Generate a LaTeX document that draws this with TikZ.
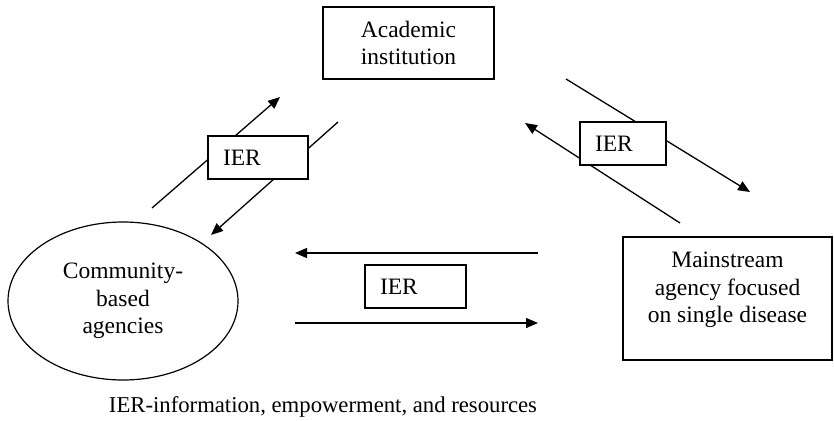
\documentclass[tikz,border=0pt]{standalone}
\usepackage{fontspec}
\setmainfont{Liberation Serif}
\usetikzlibrary{shapes.geometric, arrows.meta, positioning}

\begin{document}
\begin{tikzpicture}[x=1pt,y=-1pt]
      \tikzset{
            orgbox/.style={draw, line width=1.2pt, align=center, inner sep=0pt, font=\fontsize{23.5}{27.5}\selectfont},
            orgellipse/.style={ellipse, draw, line width=1.2pt, inner sep=0pt, minimum width=230pt, minimum height=158pt, align=center, font=\fontsize{23.5}{27.5}\selectfont},
            ierbox/.style={draw, fill=white, line width=1.2pt, inner xsep=15pt, inner ysep=0pt, minimum height=43pt, align=left, font=\fontsize{23.5}{27.5}\selectfont},
            ierarrow/.style={-{Triangle[length=12pt,width=10pt]}, line width=1.3pt},
            captiontext/.style={font=\fontsize{22.7}{26}\selectfont}
      }

      % Canvas
      \useasboundingbox (0,0) rectangle (834,420);

      % Organisations
      \node[orgbox, minimum width=171pt, minimum height=72pt] (acad) at (408.5,43) {Academic\\institution};
      \node[orgellipse] (comm) at (123,301) {Community-\\based\\agencies};
      \node[orgbox, minimum width=209pt, minimum height=123pt] (main) at (727.5,298.5) {};
      \node[orgbox, draw=none] (mainTxt) at ([yshift=8.5pt]main.center) {Mainstream\\agency focused\\on single disease};

      % Arrow end points
      \coordinate (lUpS) at (152,208);
      \coordinate (lUpE) at (280,97);
      \coordinate (lDnS) at (338,122);
      \coordinate (lDnE) at (211,235);
      \coordinate (rDnS) at (566,79);
      \coordinate (rDnE) at (750,192);
      \coordinate (rUpS) at (680,223);
      \coordinate (rUpE) at (525,123);
      \coordinate (bLS) at (538,253);
      \coordinate (bLE) at (295,253);
      \coordinate (bRS) at (295,323);
      \coordinate (bRE) at (538,323);

      % Exchange arrows
      \draw[ierarrow] (lUpS) -- (lUpE);
      \draw[ierarrow] (lDnS) -- (lDnE);
      \draw[ierarrow] (rDnS) -- (rDnE);
      \draw[ierarrow] (rUpS) -- (rUpE);
      \draw[ierarrow] (bLS) -- (bLE);
      \draw[ierarrow] (bRS) -- (bRE);

      % IER labels (on top of the arrows)
      \node[ierbox, text width=70pt] (ierL) at (258,157.5) {IER};
      \node[ierbox, text width=56pt] (ierR) at (623,143.5) {IER};
      \node[ierbox, text width=71pt] (ierB) at (415.5,286.5) {IER};

      % Key
      \node[captiontext] (caption) at (323,407) {IER-information, empowerment, and resources};

\end{tikzpicture}
\end{document}
